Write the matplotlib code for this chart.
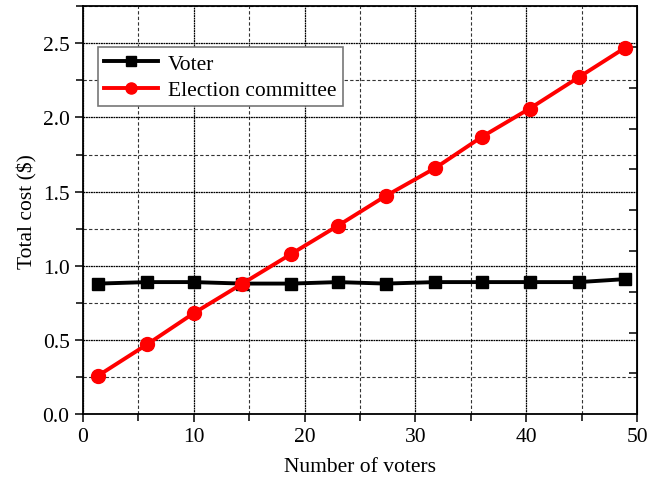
import matplotlib.pyplot as plt
import numpy as np
from matplotlib.ticker import MultipleLocator

# Datos: costo total frente al número de votantes
votantes = [1.4, 5.8, 10.0, 14.4, 18.8, 23.0, 27.3, 31.8, 36.0, 40.3, 44.7, 48.9]
costo_votante = [0.88, 0.89, 0.89, 0.88, 0.88, 0.89, 0.88, 0.89, 0.89, 0.89, 0.89, 0.91]
costo_comite = [0.26, 0.47, 0.68, 0.88, 1.08, 1.27, 1.47, 1.66, 1.87, 2.06, 2.27, 2.47]

plt.rcParams['font.family'] = ['Liberation Serif', 'DejaVu Serif']
plt.rcParams['mathtext.fontset'] = 'custom'
fs = 15.5

fig = plt.figure(figsize=(6.57, 4.81), dpi=100)
ax = fig.add_axes([0.126, 0.137, 0.844, 0.848])

ax.plot(votantes, costo_votante, color='black', marker='s', ms=9, lw=2.8,
        label='Voter', zorder=3)
ax.plot(votantes, costo_comite, color='red', marker='o', ms=10, lw=2.8,
        label='Election committee', zorder=4)

ax.set_xlim(0, 50)
ax.set_ylim(0, 2.75)
ax.xaxis.set_major_locator(MultipleLocator(10))
ax.xaxis.set_minor_locator(MultipleLocator(5))
ax.yaxis.set_major_locator(MultipleLocator(0.5))
ax.yaxis.set_minor_locator(MultipleLocator(0.25))
ax.yaxis.set_major_formatter(plt.FormatStrFormatter('%.1f'))

ax.grid(which='major', color='black', lw=0.9, linestyle=(0, (1.5, 0.5)))
ax.grid(which='minor', color='#333333', lw=0.8, linestyle=(0, (3, 2)))
ax.set_axisbelow(True)

ax.tick_params(which='both', direction='out', width=1.1, labelsize=fs)
ax.tick_params(which='major', length=6)
ax.tick_params(which='minor', length=5)
ax.tick_params(top=False, right=False)
for s in ax.spines.values():
    s.set_linewidth(1.3)

# Marcas interiores del eje derecho
der = ax.secondary_yaxis('right')
der.set_yticks(np.arange(0.275, 2.75, 0.275))
der.set_yticklabels([])
der.tick_params(direction='in', length=6, width=1.1)

ax.set_xlabel('Number of voters', fontsize=fs, labelpad=8)
ax.set_ylabel('Total cost ($)', fontsize=fs, labelpad=4)

leg = ax.legend(loc='upper left', bbox_to_anchor=(0.027, 0.899), fontsize=fs,
                fancybox=False, framealpha=1, edgecolor='#777777',
                handlelength=2.5, handletextpad=0.45, markerscale=0.8,
                borderpad=0.3, labelspacing=0.28, borderaxespad=0)
leg.get_frame().set_linewidth(1.2)

fig.savefig('out.png', dpi=100)
